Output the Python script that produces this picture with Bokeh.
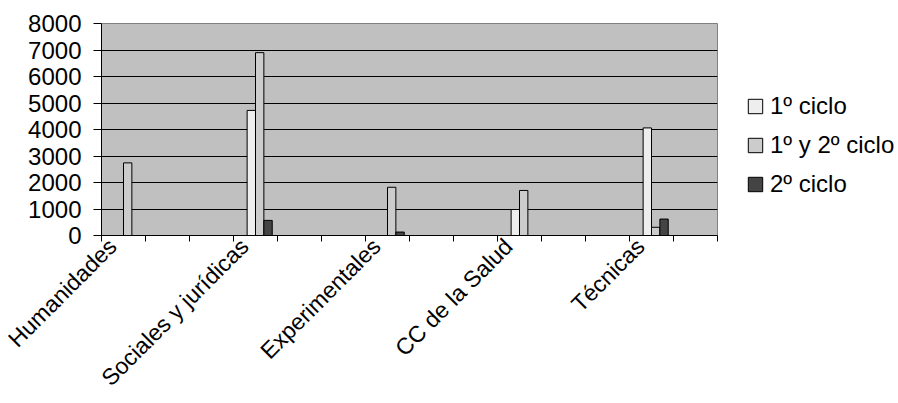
import math
from bokeh.plotting import figure
from bokeh.layouts import row
from bokeh.models import (ColumnDataSource, FixedTicker, Legend, LegendItem,
                          Range1d)
from bokeh.embed import file_html
from bokeh.resources import INLINE

# ---- data ----
categories = ["Humanidades", "", "", "Sociales y jurídicas", "", "",
              "Experimentales", "", "", "CC de la Salud", "", "",
              "Técnicas", ""]
ciclo1 = [0, 0, 0, 4720, 0, 0, 0, 0, 0, 980, 0, 0, 4060, 0]
ciclo12 = [2740, 0, 0, 6900, 0, 0, 1820, 0, 0, 1700, 0, 0, 310, 0]
ciclo2 = [0, 0, 0, 570, 0, 0, 130, 0, 0, 0, 0, 0, 620, 0]
series_names = ["1º ciclo", "1º y 2º ciclo", "2º ciclo"]
series_colors = ["#eeeeee", "#cccccc", "#444444"]
y_ticks = [0, 1000, 2000, 3000, 4000, 5000, 6000, 7000, 8000]

FONT = "Liberation Sans"
FS = "24px"

n = len(categories)
centers = [i + 0.5 for i in range(n)]
w = 0.19

src = ColumnDataSource(dict(
    x1=[c - 0.5 * w for c in centers],
    x12=[c + 0.5 * w for c in centers],
    x2=[c + 1.5 * w for c in centers],
    c1=ciclo1, c12=ciclo12, c2=ciclo2,
))

p = figure(width=725, height=403, output_backend="svg", toolbar_location=None,
           x_range=Range1d(0, n), y_range=Range1d(0, 8000),
           min_border_left=101, min_border_right=8,
           min_border_top=23, min_border_bottom=168)
p.background_fill_color = "#c0c0c0"
p.border_fill_color = "white"
p.outline_line_color = "#808080"
p.outline_line_width = 1

for xcol, ycol, col in (("x1", "c1", series_colors[0]),
                        ("x12", "c12", series_colors[1]),
                        ("x2", "c2", series_colors[2])):
    p.vbar(x=xcol, top=ycol, width=w, source=src, fill_color=col,
           line_color="black", line_width=1)

# x axis: boundary ticks as minor ticks, labels near category centres
shift = 0.25
label_pos = [c - shift for c, name in zip(centers, categories) if name]
p.xaxis.ticker = FixedTicker(ticks=label_pos, minor_ticks=list(range(n + 1)))
p.xaxis.major_label_overrides = {c - shift: name for c, name in zip(centers, categories) if name}
p.xaxis.minor_tick_out = 6
p.xaxis.minor_tick_in = 0
p.xaxis.minor_tick_line_color = "black"
p.xaxis.major_tick_line_color = None
p.xaxis.major_tick_out = 6
p.xaxis.major_tick_in = 0
p.xaxis.major_label_standoff = 1
p.xaxis.major_label_orientation = math.pi / 4
p.xaxis.major_label_text_font = FONT
p.xaxis.major_label_text_font_size = "23px"
p.xaxis.major_label_text_color = "black"
p.xaxis.axis_line_color = "black"
p.xgrid.grid_line_color = None

# y axis
p.yaxis.ticker = FixedTicker(ticks=y_ticks, minor_ticks=[])
p.yaxis.major_tick_out = 8
p.yaxis.major_tick_in = 0
p.yaxis.major_tick_line_color = "black"
p.yaxis.minor_tick_line_color = None
p.yaxis.axis_line_color = "black"
p.yaxis.major_label_standoff = 12
p.yaxis.major_label_text_font = FONT
p.yaxis.major_label_text_font_size = FS
p.yaxis.major_label_text_color = "black"
p.ygrid.grid_line_color = "black"
p.ygrid.grid_line_width = 1

# legend in its own small figure to the right (same top/bottom borders)
q = figure(width=173, height=403, output_backend="svg", toolbar_location=None,
           x_range=Range1d(0, 1), y_range=Range1d(0, 1),
           x_axis_location=None, y_axis_location=None,
           min_border_left=21, min_border_right=0,
           min_border_top=23, min_border_bottom=168)
q.outline_line_color = None
q.background_fill_color = "white"
q.border_fill_color = "white"
q.xgrid.grid_line_color = None
q.ygrid.grid_line_color = None
items = []
for name, col in zip(series_names, series_colors):
    r = q.vbar(x=[0.5], top=[0], width=0.0, fill_color=col, line_color="black",
               line_width=1)
    items.append(LegendItem(label=name, renderers=[r]))

legend = Legend(items=items, location="top_left", orientation="vertical")
legend.title = " "
legend.title_text_font = FONT
legend.title_text_font_size = "24px"
legend.title_standoff = 35
legend.border_line_color = None
legend.background_fill_alpha = 0
legend.margin = 0
legend.padding = 0
legend.spacing = 0
legend.glyph_width = 18
legend.glyph_height = 18
legend.label_height = 39
legend.label_standoff = 6
legend.label_text_font = FONT
legend.label_text_font_size = FS
legend.label_text_color = "black"
q.add_layout(legend, "center")

layout = row(p, q, spacing=0)
open("out.html", "w").write(file_html(layout, INLINE))
